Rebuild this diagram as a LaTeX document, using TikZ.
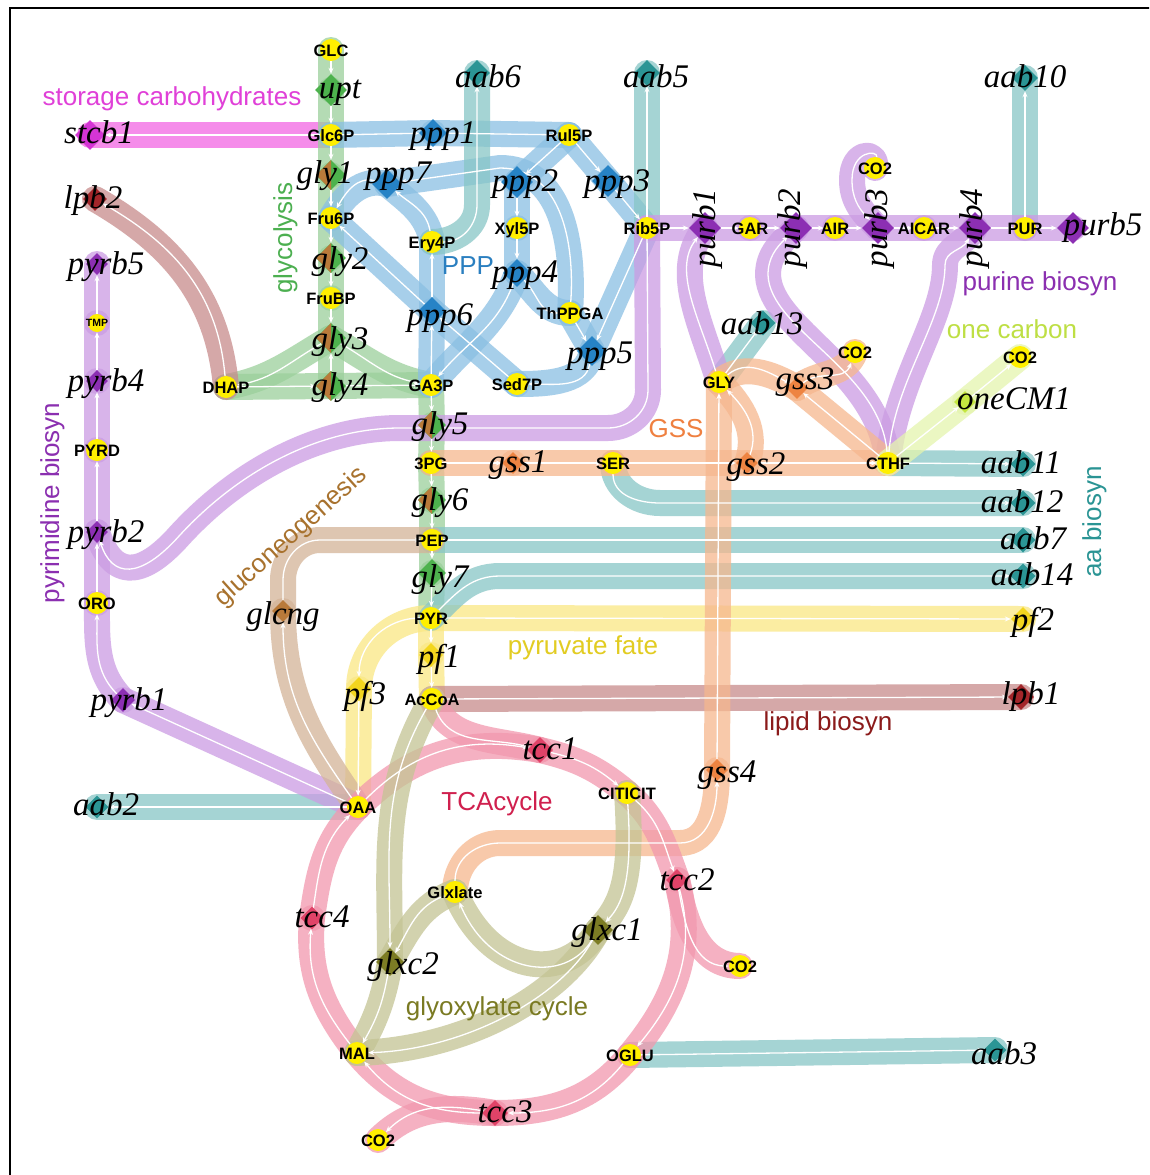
\documentclass[tikz,border=0pt]{standalone}
\usepackage{fontspec}
\setmainfont{Liberation Serif}
\newfontfamily\msans{Liberation Sans}
\usetikzlibrary{shapes.geometric,arrows.meta}
\pgfdeclarelayer{bg}\pgfdeclarelayer{bands}\pgfdeclarelayer{wlines}\pgfdeclarelayer{labels}
\pgfsetlayers{bg,bands,wlines,main,labels}
\definecolor{metY}{HTML}{FFEF00}
\definecolor{storB}{HTML}{F266E4}\definecolor{storD}{HTML}{D535D5}
\definecolor{glycB}{HTML}{9BD09B}\definecolor{glycD}{HTML}{4DB24D}
\definecolor{pppB}{HTML}{8ABFE3}\definecolor{pppD}{HTML}{2683C6}
\definecolor{purB}{HTML}{CB9CE3}\definecolor{purD}{HTML}{8C2FB3}
\definecolor{aaB}{HTML}{88C6C6}\definecolor{aaD}{HTML}{2B9595}
\definecolor{gssB}{HTML}{F6B78E}\definecolor{gssD}{HTML}{EE8442}
\definecolor{lipB}{HTML}{C88C8C}\definecolor{lipD}{HTML}{A3262A}
\definecolor{pfB}{HTML}{FAE884}\definecolor{pfD}{HTML}{F3D61E}
\definecolor{tcaB}{HTML}{F298AE}\definecolor{tcaD}{HTML}{E04368}
\definecolor{glxB}{HTML}{C4C494}\definecolor{glxD}{HTML}{7C7C24}
\definecolor{gngB}{HTML}{D4B498}\definecolor{gngD}{HTML}{B97A3A}
\definecolor{onecB}{HTML}{E5F5AE}\definecolor{onecD}{HTML}{C5E740}
\definecolor{storT}{HTML}{E040D8}\definecolor{glycT}{HTML}{4CAF50}
\definecolor{pppT}{HTML}{2A7FC0}\definecolor{purT}{HTML}{8B2FB0}
\definecolor{onecT}{HTML}{BEDF44}\definecolor{gssT}{HTML}{EF8040}
\definecolor{gngT}{HTML}{A8722E}\definecolor{aaT}{HTML}{2A9494}
\definecolor{pfT}{HTML}{E2CC22}\definecolor{lipT}{HTML}{8B1A1A}
\definecolor{tcaT}{HTML}{D0204E}\definecolor{glxT}{HTML}{7A7A22}
\newcommand\lnk[4]{%
  \begin{pgfonlayer}{bands}\draw[band,draw=#1] (#2.center) #3 (#4.center);\end{pgfonlayer}%
  \begin{pgfonlayer}{wlines}\draw[wline] (#2) #3 (#4);\end{pgfonlayer}}
\begin{document}
\begin{tikzpicture}[x=1pt,y=-1pt,
 band/.style={line width=26pt,line cap=round,line join=round,draw opacity=0.75},
 wline/.style={draw=white,line width=1.3pt,-{Stealth[length=6pt,width=5pt]}},
 metnode/.style={circle,fill=metY,minimum size=22pt,inner sep=0pt},
 rxn/.style 2 args={diamond,fill=#1,inner sep=0pt,minimum width=#2pt,minimum height=#2pt},
 glyx/.style={rxn={glycD}{#1},path picture={\fill[gngD] (path picture bounding box.north) -- (path picture bounding box.west) -- (path picture bounding box.south) -- cycle;}},
 mettext/.style={font={\msans\bfseries\fontsize{16.5}{18}\selectfont},inner sep=0pt,text height=12pt,text depth=0pt},
 smtext/.style={font={\msans\bfseries\fontsize{10.5}{12}\selectfont},inner sep=0pt,text height=7.5pt,text depth=0pt},
 rxtext/.style={font={\itshape\fontsize{33}{36}\selectfont},inner sep=0pt,text height=22pt,text depth=7pt},
 pwtext/.style={font={\msans\fontsize{26}{28}\selectfont},inner sep=0pt,text height=19pt,text depth=5pt}]
\useasboundingbox (0,0) rectangle (1149,1175);
\begin{pgfonlayer}{bg}\fill[white] (0,0) rectangle (1149,1175);\end{pgfonlayer}
% ---------- metabolites
\node[metnode] (GLC) at (331,50) {};
\node[metnode] (Glc6P) at (331,135) {};
\node[metnode] (Fru6P) at (331,218) {};
\node[metnode] (FruBP) at (331,298) {};
\node[metnode] (DHAP) at (226,387) {};
\node[metnode] (GA3P) at (431,385) {};
\node[metnode] (Ery4P) at (432,242) {};
\node[metnode] (Rul5P) at (569,135) {};
\node[metnode] (Xyl5P) at (517,228) {};
\node[metnode] (ThPPGA) at (570,313) {};
\node[metnode] (Sed7P) at (517,384) {};
\node[metnode] (Rib5P) at (647,228) {};
\node[metnode] (GAR) at (750,228) {};
\node[metnode] (AIR) at (835,228) {};
\node[metnode] (AICAR) at (924,228) {};
\node[metnode] (PUR) at (1025,228) {};
\node[metnode] (CO2t) at (875,168) {};
\node[metnode] (GLY) at (719,382) {};
\node[metnode] (CO2g) at (855,352) {};
\node[metnode] (CO2o) at (1020,357) {};
\node[metnode] (CTHF) at (888,463) {};
\node[metnode] (SER) at (613,463) {};
\node[metnode] (PG3) at (431,463) {};
\node[metnode] (PEP) at (432,540) {};
\node[metnode] (PYR) at (431,618) {};
\node[metnode] (AcCoA) at (432,699) {};
\node[metnode] (OAA) at (358,807) {};
\node[metnode] (CITICIT) at (627,793) {};
\node[metnode] (Glxlate) at (455,892) {};
\node[metnode] (CO2r) at (740,966) {};
\node[metnode] (OGLU) at (630,1055) {};
\node[metnode] (MAL) at (357,1053) {};
\node[metnode] (CO2b) at (378,1140) {};
\node[metnode,minimum size=18pt] (TMP) at (97,323) {};
\node[metnode] (PYRD) at (97,450) {};
\node[metnode] (ORO) at (97,603) {};
% ---------- reactions
\node[rxn={glycD}{32}] (upt) at (331,90) {};
\node[rxn={storD}{30}] (stcb1) at (90,135) {};
\node[glyx=30] (gly1) at (331,175) {};
\node[glyx=30] (gly2) at (331,258) {};
\node[glyx=30] (gly3) at (331,338) {};
\node[glyx=30] (gly4) at (331,386) {};
\node[glyx=28] (gly5) at (432,425) {};
\node[glyx=28] (gly6) at (432,500) {};
\node[rxn={glycD}{28}] (gly7) at (432,573) {};
\node[rxn={pfD}{24}] (pf1) at (431,655) {};
\node[rxn={pfD}{24}] (pf3) at (359,689) {};
\node[rxn={pfD}{24}] (pf2) at (1023,619) {};
\node[rxn={lipD}{26}] (lpb1) at (1021,697) {};
\node[rxn={lipD}{24}] (lpb2) at (95,199) {};
\node[rxn={purD}{22}] (pyrb5) at (97,264) {};
\node[rxn={purD}{22}] (pyrb4) at (97,381) {};
\node[rxn={purD}{22}] (pyrb2) at (97,532) {};
\node[rxn={purD}{24}] (pyrb1) at (123,700) {};
\node[rxn={pppD}{28}] (ppp1) at (433,133) {};
\node[rxn={pppD}{30}] (ppp7) at (387,184) {};
\node[rxn={pppD}{32}] (ppp2) at (517,182) {};
\node[rxn={pppD}{32}] (ppp3) at (608,181) {};
\node[rxn={pppD}{28}] (ppp4) at (517,273) {};
\node[rxn={pppD}{28}] (ppp6) at (432,311) {};
\node[rxn={pppD}{30}] (ppp5) at (592,351) {};
\node[rxn={aaD}{26}] (aab6) at (477,73) {};
\node[rxn={aaD}{26}] (aab5) at (647,73) {};
\node[rxn={aaD}{26}] (aab10) at (1025,78) {};
\node[rxn={purD}{32}] (purb1) at (705,228) {};
\node[rxn={purD}{32}] (purb2) at (796,228) {};
\node[rxn={purD}{32}] (purb3) at (878,228) {};
\node[rxn={purD}{32}] (purb4) at (975,228) {};
\node[rxn={purD}{32}] (purb5) at (1073,228) {};
\node[rxn={aaD}{25}] (aab13) at (763,323) {};
\node[rxn={gssD}{22}] (gss3) at (797,388) {};
\node[rxn={gssD}{22}] (gss2) at (747,463) {};
\node[rxn={gssD}{22}] (gss1) at (513,463) {};
\node[rxn={gssD}{22}] (gss4) at (717,770) {};
\node[rxn={onecD}{22}] (oneCM1) at (965,402) {};
\node[rxn={aaD}{25}] (aab11) at (1023,464) {};
\node[rxn={aaD}{25}] (aab12) at (1023,503) {};
\node[rxn={aaD}{25}] (aab7) at (1023,540) {};
\node[rxn={aaD}{25}] (aab14) at (1023,576) {};
\node[rxn={gngD}{22}] (glcng) at (283,611) {};
\node[rxn={tcaD}{26}] (tcc1) at (540,750) {};
\node[rxn={tcaD}{22}] (tcc2) at (677,880) {};
\node[rxn={tcaD}{26}] (tcc3) at (495,1113) {};
\node[rxn={tcaD}{23}] (tcc4) at (312,918) {};
\node[rxn={glxD}{30}] (glxc1) at (598,930) {};
\node[rxn={glxD}{28}] (glxc2) at (390,962) {};
\node[rxn={aaD}{23}] (aab2) at (97,807) {};
\node[rxn={aaD}{23}] (aab3) at (995,1050) {};
% ---------- storage
\lnk{storB}{Glc6P}{--}{stcb1}
% ---------- glycolysis
\lnk{glycB}{GLC}{--}{upt}
\lnk{glycB}{upt}{--}{Glc6P}
\lnk{glycB}{Glc6P}{--}{gly1}
\lnk{glycB}{gly1}{--}{Fru6P}
\lnk{glycB}{Fru6P}{--}{gly2}
\lnk{glycB}{gly2}{--}{FruBP}
\lnk{glycB}{FruBP}{--}{gly3}
\lnk{glycB}{gly3}{to[out=-150,in=10]}{DHAP}
\lnk{glycB}{gly3}{to[out=-30,in=170]}{GA3P}
\lnk{glycB}{gly4}{--}{gly3}
\lnk{glycB}{DHAP}{--}{gly4}
\lnk{glycB}{gly4}{--}{GA3P}
\lnk{glycB}{GA3P}{--}{gly5}
\lnk{glycB}{gly5}{--}{PG3}
\lnk{glycB}{PG3}{--}{gly6}
\lnk{glycB}{gly6}{--}{PEP}
\lnk{glycB}{PEP}{--}{gly7}
\lnk{glycB}{gly7}{--}{PYR}
% ---------- pyruvate fate
\lnk{pfB}{PYR}{--}{pf1}
\lnk{pfB}{pf1}{--}{AcCoA}
\lnk{pfB}{PYR}{--}{pf2}
\lnk{pfB}{PYR}{to[out=180,in=90]}{pf3}
\lnk{pfB}{pf3}{--}{OAA}
% ---------- lipid
\lnk{lipB}{AcCoA}{--}{lpb1}
\lnk{lipB}{DHAP}{to[out=95,in=-30]}{lpb2}
% ---------- PPP
\lnk{pppB}{Glc6P}{--}{ppp1}
\lnk{pppB}{ppp1}{--}{Rul5P}
\lnk{pppB}{Rul5P}{--}{ppp2}
\lnk{pppB}{Rul5P}{--}{ppp3}
\lnk{pppB}{ppp3}{--}{Rib5P}
\lnk{pppB}{ppp2}{--}{Xyl5P}
\lnk{pppB}{Xyl5P}{--}{ppp4}
\lnk{pppB}{ppp4}{to[out=-110,in=50]}{GA3P}
\lnk{pppB}{ppp4}{to[out=-45,in=180]}{ThPPGA}
\lnk{pppB}{ThPPGA}{--}{ppp5}
\lnk{pppB}{Rib5P}{--}{ppp5}
\lnk{pppB}{ppp5}{to[out=-100,in=0]}{Sed7P}
\lnk{pppB}{Sed7P}{--}{ppp6}
\lnk{pppB}{GA3P}{--}{ppp6}
\lnk{pppB}{ppp6}{--}{Ery4P}
\lnk{pppB}{ppp6}{--}{Fru6P}
\lnk{pppB}{Ery4P}{to[out=100,in=-40]}{ppp7}
\lnk{pppB}{ThPPGA}{.. controls (575,240) and (560,168) .. (500,168) --}{ppp7}
\lnk{pppB}{ppp7}{to[out=165,in=60]}{Fru6P}
% ---------- aa biosyn
\lnk{aaB}{Ery4P}{to[out=0,in=-90] (477,205) --}{aab6}
\lnk{aaB}{Rib5P}{--}{aab5}
\lnk{aaB}{PUR}{--}{aab10}
\lnk{aaB}{GLY}{--}{aab13}
\lnk{aaB}{CTHF}{--}{aab11}
\lnk{aaB}{SER}{to[out=-90,in=180] (660,503) --}{aab12}
\lnk{aaB}{PEP}{--}{aab7}
\lnk{aaB}{PYR}{to[out=45,in=180] (500,576) --}{aab14}
\lnk{aaB}{OAA}{--}{aab2}
\lnk{aaB}{OGLU}{--}{aab3}
% ---------- purine
\lnk{purB}{Rib5P}{--}{purb1}
\lnk{purB}{purb1}{--}{GAR}
\lnk{purB}{GAR}{--}{purb2}
\lnk{purB}{purb2}{--}{AIR}
\lnk{purB}{AIR}{--}{purb3}
\lnk{purB}{purb3}{--}{AICAR}
\lnk{purB}{AICAR}{--}{purb4}
\lnk{purB}{purb4}{--}{PUR}
\lnk{purB}{PUR}{--}{purb5}
\lnk{purB}{CO2t}{.. controls (878,150) and (852,150) .. (852,180) to[out=-90,in=135]}{purb3}
\lnk{purB}{GLY}{.. controls (700,320) and (672,270) ..}{purb1}
\lnk{purB}{CTHF}{.. controls (880,370) and (770,330) .. (768,275) to[out=90,in=-135]}{purb2}
\lnk{purB}{CTHF}{.. controls (895,380) and (945,320) .. (945,265) to[out=90,in=-120]}{purb4}
\lnk{purB}{Rib5P}{-- (648,390) to[out=-90,in=0] (608,428) -- (400,428) .. controls (320,428) and (240,470) .. (180,535) .. controls (140,580) and (112,578) ..}{pyrb2}
% ---------- pyrimidine
\lnk{purB}{OAA}{--}{pyrb1}
\lnk{purB}{pyrb1}{to[out=135,in=-90]}{ORO}
\lnk{purB}{ORO}{--}{pyrb2}
\lnk{purB}{pyrb2}{--}{PYRD}
\lnk{purB}{PYRD}{--}{pyrb4}
\lnk{purB}{pyrb4}{--}{TMP}
\lnk{purB}{TMP}{--}{pyrb5}
% ---------- GSS
\lnk{gssB}{PG3}{--}{gss1}
\lnk{gssB}{gss1}{--}{SER}
\lnk{gssB}{SER}{--}{gss2}
\lnk{gssB}{gss2}{--}{CTHF}
\lnk{gssB}{gss2}{to[out=70,in=-45]}{GLY}
\lnk{gssB}{GLY}{to[out=40,in=150]}{gss3}
\lnk{gssB}{gss3}{to[out=40,in=-110]}{CO2g}
\lnk{gssB}{CTHF}{--}{gss3}
\lnk{gssB}{Glxlate}{to[out=90,in=180] (500,843) -- (680,843) to[out=0,in=-90]}{gss4}
\lnk{gssB}{gss4}{--}{GLY}
% ---------- one carbon
\lnk{onecB}{CTHF}{--}{oneCM1}
\lnk{onecB}{oneCM1}{--}{CO2o}
% ---------- gluconeogenesis
\lnk{gngB}{OAA}{to[out=125,in=-90]}{glcng}
\lnk{gngB}{glcng}{-- (283,580) to[out=90,in=180] (320,540) --}{PEP}
% ---------- TCA
\lnk{tcaB}{AcCoA}{to[out=-70,in=165]}{tcc1}
\lnk{tcaB}{OAA}{to[out=45,in=170]}{tcc1}
\lnk{tcaB}{tcc1}{to[out=-13,in=140]}{CITICIT}
\lnk{tcaB}{CITICIT}{to[out=-41,in=110]}{tcc2}
\lnk{tcaB}{tcc2}{to[out=-75,in=50]}{OGLU}
\lnk{tcaB}{tcc2}{to[out=-80,in=180]}{CO2r}
\lnk{tcaB}{OGLU}{to[out=-129,in=0]}{tcc3}
\lnk{tcaB}{tcc3}{to[out=180,in=-50]}{MAL}
\lnk{tcaB}{tcc3}{to[out=170,in=45]}{CO2b}
\lnk{tcaB}{MAL}{to[out=128,in=-95]}{tcc4}
\lnk{tcaB}{tcc4}{to[out=82,in=-135]}{OAA}
% ---------- glyoxylate
\lnk{glxB}{AcCoA}{to[out=-120,in=90]}{glxc2}
\lnk{glxB}{Glxlate}{to[out=200,in=60]}{glxc2}
\lnk{glxB}{glxc2}{to[out=-100,in=60]}{MAL}
\lnk{glxB}{CITICIT}{.. controls (633,880) and (622,905) ..}{glxc1}
\lnk{glxB}{glxc1}{.. controls (565,985) and (490,975) ..}{Glxlate}
\lnk{glxB}{glxc1}{.. controls (560,1000) and (460,1050) ..}{MAL}
% ---------- texts
\begin{pgfonlayer}{labels}
\foreach \n/\t in {GLC/GLC,Glc6P/Glc6P,Fru6P/Fru6P,FruBP/FruBP,DHAP/DHAP,GA3P/GA3P,Ery4P/Ery4P,Rul5P/Rul5P,Xyl5P/Xyl5P,ThPPGA/ThPPGA,Sed7P/Sed7P,Rib5P/Rib5P,GAR/GAR,AIR/AIR,AICAR/AICAR,PUR/PUR,CO2t/CO2,GLY/GLY,CO2g/CO2,CO2o/CO2,CTHF/CTHF,SER/SER,PG3/3PG,PEP/PEP,PYR/PYR,AcCoA/AcCoA,OAA/OAA,CITICIT/CITICIT,Glxlate/Glxlate,CO2r/CO2,OGLU/OGLU,MAL/MAL,CO2b/CO2,PYRD/PYRD,ORO/ORO}
  {\node[mettext] (\n-t) at (\n) {\t};}
\node[smtext] (TMP-t) at (TMP) {TMP};
\foreach \n/\x/\y in {upt/340/91,stcb1/99/136,gly1/325/176,gly2/340/262,gly3/340/342,gly4/340/388,gly5/440/427,gly6/440/503,gly7/440/580,pf1/439/660,pf3/365/697,pf2/1033/623,lpb1/1031/697,lpb2/93/201,pyrb5/106/267,pyrb4/106/384,pyrb2/106/535,pyrb1/129/703,ppp1/443/136,ppp7/398/176,ppp2/525/184,ppp3/617/184,ppp4/525/275,ppp6/440/318,ppp5/600/356,aab6/488/80,aab5/656/80,aab10/1025/80,purb5/1103/228,aab13/762/327,gss3/805/382,gss2/756/467,gss1/518/465,gss4/727/775,oneCM1/1014/402,aab11/1021/466,aab12/1022/505,aab7/1033/542,aab14/1032/578,glcng/283/617,tcc1/550/752,tcc2/687/883,tcc3/505/1115,tcc4/322/920,glxc1/607/933,glxc2/403/967,aab2/106/808,aab3/1004/1057}
  {\node[rxtext] (\n-t) at (\x,\y) {\n};}
\foreach \n/\x in {purb1/708,purb2/793,purb3/880,purb4/975}
  {\node[rxtext,rotate=90] (\n-t) at (\x,228) {\n};}
\node[pwtext,text=storT] (L-stor) at (172,98) {storage carbohydrates};
\node[pwtext,text=glycT,rotate=90] (L-glyc) at (285,238) {glycolysis};
\node[pwtext,text=pppT] (L-ppp) at (468,267) {PPP};
\node[pwtext,text=purT] (L-pur) at (1040,283) {purine biosyn};
\node[pwtext,text=onecT] (L-onec) at (1012,331) {one carbon};
\node[pwtext,text=gssT] (L-gss) at (676,430) {GSS};
\node[pwtext,text=gngT,rotate=42] (L-gng) at (291,537) {gluconeogenesis};
\node[pwtext,text=purT,rotate=90] (L-pyr) at (52,503) {pyrimidine biosyn};
\node[pwtext,text=aaT,rotate=90] (L-aa) at (1094,522) {aa biosyn};
\node[pwtext,text=pfT] (L-pf) at (583,647) {pyruvate fate};
\node[pwtext,text=lipT] (L-lip) at (828,723) {lipid biosyn};
\node[pwtext,text=tcaT] (L-tca) at (497,803) {TCAcycle};
\node[pwtext,text=glxT] (L-glx) at (497,1008) {glyoxylate cycle};
\begin{scope}
\clip (0,0) rectangle (1149,1175);
\draw[line width=2.5pt] (10,8) rectangle (1170,1195);
\end{scope}
\end{pgfonlayer}
\end{tikzpicture}
\end{document}
